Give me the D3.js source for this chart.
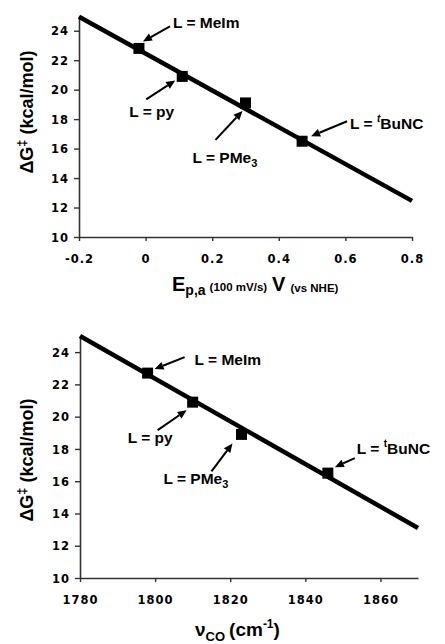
<!DOCTYPE html>
<html>
<head>
<meta charset="utf-8">
<script src="https://cdn.jsdelivr.net/npm/d3@7"></script>
<style>
  html, body { margin: 0; padding: 0; background: #fff; }
  svg { display: block; }
</style>
</head>
<body>
<svg id="chart" width="445" height="644"></svg>
<script>
// ---------------- DATA ----------------
const ligands = ["MeIm", "py", "PMe3", "tBuNC"];
// top panel: anodic peak potential (V vs NHE) vs activation free energy
const potentialE = [-0.02, 0.11, 0.30, 0.47];
const dGvsE = [22.8, 20.9, 19.1, 16.5];
const fitEx = [-0.2, 0.8];
const fitEy = [24.95, 12.45];
const topXTicks = [-0.2, 0, 0.2, 0.4, 0.6, 0.8];
// bottom panel: CO stretching frequency (cm-1) vs activation free energy
const nuCO = [1798, 1810, 1823, 1846];
const dGvsNu = [22.7, 20.9, 18.9, 16.5];
const fitNux = [1780, 1870];
const fitNuy = [25.0, 13.1];
const bottomXTicks = [1780, 1800, 1820, 1840, 1860];
const yTicks = [10, 12, 14, 16, 18, 20, 22, 24];

// ---------------- LAYOUT ----------------
const svg = d3.select("#chart");
const INK = "#000";
const tickFont = "'DejaVu Sans', sans-serif";
const labFont = "'Liberation Sans', Arial, sans-serif";

// annotation offsets (px) relative to each marker: head, tail, label
const topAnno = [
  { head: [4, -7], tail: [31, -22], lab: [34, -26] },
  { head: [-7, 4], tail: [-36, 23], lab: [-53, 35] },
  { head: [-3, 8], tail: [-30, 37], lab: [-53, 54] },
  { head: [9, -5], tail: [45, -20], lab: [48, -18] }
];
const botAnno = [
  { head: [7, -4], tail: [37, -16], lab: [47, -14] },
  { head: [-6, 8], tail: [-35, 28], lab: [-65, 35] },
  { head: [-9, 9], tail: [-30, 37], lab: [-78, 44] },
  { head: [7, -6], tail: [27, -15], lab: [29, -25] }
];

function writeLabel(sel, name, italicT) {
  sel.append("tspan").text("L = ");
  if (name === "PMe3") {
    sel.append("tspan").text("PMe");
    sel.append("tspan").attr("font-size", 11).attr("dy", 4).text("3");
  } else if (name === "tBuNC") {
    sel.append("tspan").attr("font-size", 10).attr("dy", -7)
      .attr("font-style", italicT ? "italic" : "normal").text("t");
    sel.append("tspan").attr("dy", 7).text("BuNC");
  } else {
    sel.append("tspan").text(name);
  }
}

function drawPanel(cfg) {
  const g = svg.append("g");
  const x = d3.scaleLinear().domain(cfg.xDomain).range(cfg.xRange);
  const y = d3.scaleLinear().domain([10, 25]).range(cfg.yRange);

  const xAxis = d3.axisBottom(x).tickValues(cfg.xTicks).tickSize(4).tickSizeOuter(0)
    .tickFormat(cfg.fmt);
  const yAxis = d3.axisLeft(y).tickValues(yTicks).tickSize(5).tickSizeOuter(0)
    .tickFormat(d3.format("d"));
  const gx = g.append("g").attr("transform", `translate(0,${cfg.yRange[0]})`).call(xAxis);
  const gy = g.append("g").attr("transform", `translate(${cfg.xRange[0]},0)`).call(yAxis);
  [gx, gy].forEach(a => {
    a.select(".domain").attr("stroke", "#333").attr("stroke-width", 1.6);
    a.selectAll(".tick line").attr("stroke", "#333").attr("stroke-width", 1.4);
    a.selectAll(".tick text").attr("fill", INK).attr("font-family", tickFont)
      .attr("font-weight", "bold").attr("font-size", 11.5).attr("letter-spacing", 1);
  });
  gx.selectAll(".tick text").attr("dy", null).attr("y", 26);
  gy.selectAll(".tick text").attr("x", -10).attr("dy", "0.36em");

  const line = d3.line().x(d => x(d[0])).y(d => y(d[1]));
  g.append("path").datum(cfg.fitX.map((v, i) => [v, cfg.fitY[i]]))
    .attr("d", line).attr("fill", "none").attr("stroke", INK).attr("stroke-width", 4.5)
    .attr("stroke-linecap", "butt");

  const pts = cfg.px.map((v, i) => ({ x: x(v), y: y(cfg.py[i]), name: ligands[i], a: cfg.anno[i] }));
  g.selectAll("rect.m").data(pts).enter().append("rect")
    .attr("x", d => d.x - 5.5).attr("y", d => d.y - 5.5)
    .attr("width", 11).attr("height", 11).attr("fill", INK);

  pts.forEach(d => {
    const hx = d.x + d.a.head[0], hy = d.y + d.a.head[1];
    const tx = d.x + d.a.tail[0], ty = d.y + d.a.tail[1];
    const ang = Math.atan2(hy - ty, hx - tx);
    const L = 9, W = 4;
    const bx = hx - L * Math.cos(ang), by = hy - L * Math.sin(ang);
    g.append("line").attr("x1", tx).attr("y1", ty).attr("x2", bx).attr("y2", by)
      .attr("stroke", INK).attr("stroke-width", 2);
    const p1 = [bx + W * Math.sin(ang), by - W * Math.cos(ang)];
    const p2 = [bx - W * Math.sin(ang), by + W * Math.cos(ang)];
    g.append("path").attr("d", `M${hx},${hy}L${p1[0]},${p1[1]}L${p2[0]},${p2[1]}Z`).attr("fill", INK);
    const t = g.append("text").attr("x", d.x + d.a.lab[0]).attr("y", d.y + d.a.lab[1])
      .attr("dy", "0.36em").attr("font-family", labFont).attr("font-weight", "bold")
      .attr("font-size", 15.5).attr("fill", INK);
    writeLabel(t, d.name, cfg.italicT);
  });

  const yt = g.append("text")
    .attr("transform", `translate(${cfg.yTitlePos[0]},${cfg.yTitlePos[1]}) rotate(-90)`)
    .attr("text-anchor", "middle").attr("font-family", labFont).attr("font-weight", "bold")
    .attr("font-size", 18).attr("fill", INK);
  yt.append("tspan").text("ΔG");
  yt.append("tspan").attr("font-size", 13).attr("dy", -7).text("‡");
  yt.append("tspan").attr("dy", 7).text(" (kcal/mol)");
  return { x, y };
}

drawPanel({
  xDomain: [-0.2, 0.8], xRange: [79, 412], yRange: [237, 16],
  xTicks: topXTicks, fmt: v => (v === 0 ? "0" : v.toFixed(1)),
  fitX: fitEx, fitY: fitEy, px: potentialE, py: dGvsE, anno: topAnno,
  italicT: true, yTitlePos: [33, 112]
});
drawPanel({
  xDomain: [1780, 1870], xRange: [80, 418], yRange: [578, 336],
  xTicks: bottomXTicks, fmt: d3.format("d"),
  fitX: fitNux, fitY: fitNuy, px: nuCO, py: dGvsNu, anno: botAnno,
  italicT: false, yTitlePos: [33, 460]
});

const xt1 = svg.append("text").attr("x", 172).attr("y", 291)
  .attr("font-family", labFont).attr("font-weight", "bold").attr("font-size", 20).attr("fill", INK);
xt1.append("tspan").text("E");
xt1.append("tspan").attr("font-size", 14).attr("dy", 4).text("p,a");
xt1.append("tspan").attr("font-size", 11.5).attr("dx", 4).attr("dy", -4).text("(100 mV/s)");
xt1.append("tspan").attr("font-size", 20).attr("dx", 5).text("V");
xt1.append("tspan").attr("font-size", 11.5).attr("dx", 5).attr("dy", 1).text("(vs NHE)");

const xt2 = svg.append("text").attr("x", 195).attr("y", 636)
  .attr("font-family", labFont).attr("font-weight", "bold").attr("font-size", 19).attr("fill", INK);
xt2.append("tspan").text("ν");
xt2.append("tspan").attr("font-size", 13).attr("dy", 5).text("CO");
xt2.append("tspan").attr("dx", 4).attr("dy", -5).text("(cm");
xt2.append("tspan").attr("font-size", 12).attr("dy", -8).text("-1");
xt2.append("tspan").attr("dy", 8).text(")");
</script>
</body>
</html>
